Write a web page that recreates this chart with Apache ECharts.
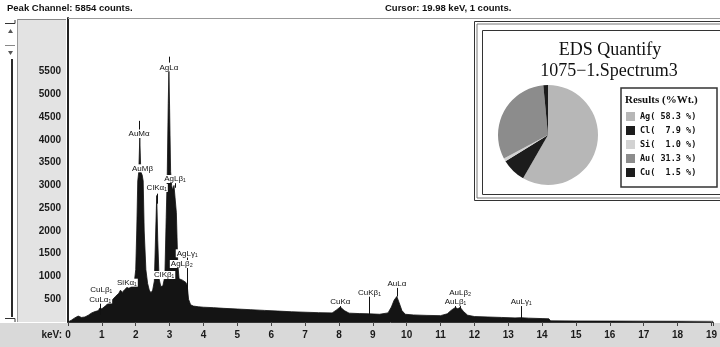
<!DOCTYPE html>
<html><head><meta charset="utf-8">
<script src="https://cdn.jsdelivr.net/npm/echarts@6/dist/echarts.min.js"></script>
<style>html,body{margin:0;padding:0;background:#fff}#c{width:720px;height:347px}</style>
</head><body><div id="c"></div>
<script>
// ---- spectrum (energy in keV, counts) ----
const keV = [
 0, 0.1, 0.2, 0.3, 0.35, 0.4, 0.5, 0.6, 0.7, 0.8,
 0.9, 0.93, 0.96, 1.0, 1.1, 1.2, 1.3, 1.4, 1.5, 1.55,
 1.6, 1.67, 1.74, 1.8, 1.86, 1.92, 1.97, 2.0, 2.03, 2.06,
 2.09, 2.12, 2.15, 2.19, 2.22, 2.25, 2.3, 2.35, 2.4, 2.45,
 2.5, 2.55, 2.59, 2.62, 2.65, 2.69, 2.74, 2.8, 2.86, 2.9,
 2.93, 2.96, 2.98, 3.0, 3.03, 3.06, 3.09, 3.13, 3.16, 3.2,
 3.24, 3.28, 3.33, 3.38, 3.43, 3.48, 3.52, 3.56, 3.62, 3.7,
 3.85, 4.0, 4.3, 4.6, 5.0, 5.4, 5.8, 6.2, 6.6, 7.0,
 7.4, 7.8, 7.92, 8.04, 8.16, 8.3, 8.6, 8.88, 8.92, 9.2,
 9.45, 9.55, 9.63, 9.71, 9.78, 9.86, 9.96, 10.2, 10.6, 11.0,
 11.2, 11.32, 11.44, 11.51, 11.58, 11.68, 11.8, 12.0, 12.4, 12.8,
 13.2, 13.38, 13.6, 14.0, 14.2, 14.25, 15, 16, 17, 18,
 19, 19.05
];
const counts = [
 0, 40, 90, 130, 120, 100, 110, 150, 200, 230,
 250, 300, 260, 290, 350, 420, 480, 560, 630, 700,
 650, 710, 760, 740, 770, 820, 950, 1150, 2000, 3100,
 3300, 4050, 3300, 3230, 3100, 2000, 1150, 850, 700, 640,
 700, 900, 2000, 2780, 1800, 950, 780, 790, 1000, 2300,
 3200, 4800, 5520, 4700, 3300, 3000, 2900, 3000, 3010, 2400,
 1300, 950, 960, 920, 900, 870, 800, 500, 380, 350,
 335, 325, 315, 300, 285, 270, 255, 240, 225, 215,
 205, 200, 260, 330, 250, 195, 185, 180, 175, 170,
 200, 330, 480, 560, 420, 250, 170, 155, 145, 140,
 180, 260, 320, 290, 320, 230, 150, 120, 110, 100,
 90, 95, 85, 75, 70, 25, 22, 20, 18, 16,
 14, 14
];

// ---- peak labels ----
const peakNames = ['CuLβ₁','CuLα₁','SiKα₁','AuMα','AuMβ','ClKα₁','AgLα','AgLβ₁','ClKβ₁','AgLγ₁','AgLβ₂','CuKα','CuKβ₁','AuLα','AuLβ₂','AuLβ₁','AuLγ₁'];
const peakKeV   = [0.98, 0.95, 1.74, 2.10, 2.20, 2.62, 2.98, 3.16, 2.84, 3.52, 3.36, 8.04, 8.90, 9.71, 11.58, 11.44, 13.38];
const peakLabelAt = [703, 494, 864, 4131, 3377, 2945, 5596, 3142, 1033, 1509, 1274, 446, 652, 850, 652, 446, 446];
const tickFrom  = [null, 410, null, 4230, null, 2820, 5700, 3050, null, 1420, null, 350, 560, 750, 350, 350, 350];
const tickTo    = [null, 160, null, 4420, null, 2600, 5830, 2950, null, 480, null, 250, 160, 560, 290, 290, 40];

// ---- quantification ----
const elements = ['Ag', 'Cl', 'Si', 'Au', 'Cu'];
const wtPercent = [58.3, 7.9, 1.0, 31.3, 1.5];
const elementColors = ['#b7b7b7', '#1c1c1c', '#d2d2d2', '#8c8c8c', '#1c1c1c'];

// ---- axes ----
const yTickLabels = [500, 1000, 1500, 2000, 2500, 3000, 3500, 4000, 4500, 5000, 5500];

const chart = echarts.init(document.getElementById('c'));
const spec = keV.map((e, i) => [e, counts[i]]);
const labelData = peakKeV.map((e, i) => [e, peakLabelAt[i]]);
const LF = 'Liberation Sans';

function renderPeak(params, api) {
  const i = params.dataIndex;
  const p = api.coord([api.value(0), api.value(1)]);
  const ch = [];
  if (tickFrom[i] != null) {
    const a = api.coord([api.value(0), tickFrom[i]]);
    const b = api.coord([api.value(0), tickTo[i]]);
    ch.push({type: 'line', shape: {x1: Math.round(a[0]) + 0.5, y1: a[1], x2: Math.round(b[0]) + 0.5, y2: b[1]},
             style: {stroke: '#111', lineWidth: 1}});
  }
  ch.push({type: 'text', x: p[0], y: p[1],
           style: {text: peakNames[i], fill: '#111', font: '8px "' + LF + '"', align: 'center',
                   verticalAlign: 'middle', backgroundColor: '#fff', padding: [0, 1]}});
  return {type: 'group', children: ch};
}

const option = {
  animation: false,
  grid: {left: 68, right: 0, top: 18, bottom: 25},
  xAxis: {
    type: 'value', min: 0, max: 19.05, interval: 1,
    axisLine: {show: true, lineStyle: {color: '#333', width: 1}},
    axisTick: {show: true, length: 4, lineStyle: {color: '#444'}},
    splitLine: {show: false},
    axisLabel: {margin: 8, color: '#1a1a1a', fontFamily: LF, fontWeight: 'bold', fontSize: 10,
                formatter: v => (Math.abs(v - Math.round(v)) < 1e-6 ? String(Math.round(v)) : '')}
  },
  yAxis: {
    type: 'value', min: 0, max: 6680, interval: 500,
    axisLine: {show: true, lineStyle: {color: '#222', width: 2}},
    axisTick: {show: false},
    splitLine: {show: false},
    axisLabel: {margin: 7, color: '#1a1a1a', fontFamily: LF, fontWeight: 'bold', fontSize: 10,
                formatter: v => (yTickLabels.indexOf(v) >= 0 ? String(v) : '')}
  },
  legend: {
    data: elements, orient: 'vertical', left: 626, top: 112,
    itemWidth: 9, itemHeight: 9, itemGap: 5, icon: 'rect', selectedMode: false,
    padding: 0, z: 6,
    textStyle: {fontFamily: 'DejaVu Sans Mono', fontWeight: 'bold', fontSize: 8.5, color: '#111', lineHeight: 9},
    formatter: name => {
      const v = wtPercent[elements.indexOf(name)].toFixed(1);
      return name + '(' + (' ' + v).padStart(5, ' ') + ' %)';
    }
  },
  series: [
    {
      type: 'line', data: spec, symbol: 'none', z: 2,
      lineStyle: {color: '#111', width: 0.8},
      areaStyle: {color: '#141414', opacity: 1}
    },
    {
      type: 'custom', data: labelData, renderItem: renderPeak, z: 4, silent: true
    },
    {
      type: 'pie', center: [548, 135], radius: 50, startAngle: 90, clockwise: true, z: 5,
      label: {show: false}, labelLine: {show: false}, silent: true,
      itemStyle: {borderWidth: 0},
      data: elements.map((n, i) => ({name: n, value: wtPercent[i], itemStyle: {color: elementColors[i]}}))
    }
  ],
  graphic: [
    // left panel
    {type: 'rect', z: -10, shape: {x: 17, y: 19, width: 49, height: 303}, style: {fill: '#e3e3e3'}},
    {type: 'rect', z: -10, shape: {x: 0, y: 323, width: 720, height: 24}, style: {fill: '#d9d9d9'}},
    {type: 'line', z: 1, shape: {x1: 68, y1: 18.5, x2: 720, y2: 18.5}, style: {stroke: '#999', lineWidth: 1}},
    {type: 'line', z: 1, shape: {x1: 17, y1: 19.5, x2: 66, y2: 19.5}, style: {stroke: '#888', lineWidth: 1}},
    {type: 'line', z: 1, shape: {x1: 17.5, y1: 19, x2: 17.5, y2: 322}, style: {stroke: '#999', lineWidth: 1}},
    // scroll widget
    {type: 'polyline', z: 1, shape: {points: [[5, 23.5], [15, 23.5], [15, 20]]}, style: {stroke: '#333', lineWidth: 1, fill: null}},
    {type: 'polygon', z: 1, shape: {points: [[8, 33], [13, 33], [10.5, 29]]}, style: {fill: '#555'}},
    {type: 'polygon', z: 1, shape: {points: [[8, 51], [13, 51], [10.5, 55]]}, style: {fill: '#555'}},
    {type: 'line', z: 1, shape: {x1: 5, y1: 45.5, x2: 15, y2: 45.5}, style: {stroke: '#888', lineWidth: 1}},
    {type: 'rect', z: 1, shape: {x: 11, y: 59, width: 2, height: 258}, style: {fill: '#2a2a2a'}},
    {type: 'polyline', z: 1, shape: {points: [[5, 318.5], [15, 318.5], [15, 322]]}, style: {stroke: '#333', lineWidth: 1, fill: null}},
    // header
    {type: 'text', z: 1, x: 7, y: 8, style: {text: 'Peak Channel: 5854 counts.', font: 'bold 9.5px "' + LF + '"', fill: '#111', verticalAlign: 'middle'}},
    {type: 'text', z: 1, x: 385, y: 8, style: {text: 'Cursor: 19.98 keV, 1 counts.', font: 'bold 9.5px "' + LF + '"', fill: '#111', verticalAlign: 'middle'}},
    {type: 'text', z: 1, x: 62, y: 335, style: {text: 'keV:', font: 'bold 10px "' + LF + '"', fill: '#1a1a1a', align: 'right', verticalAlign: 'middle'}},
    // inset
    {type: 'rect', z: 3, shape: {x: 474.5, y: 21.5, width: 250, height: 179}, style: {fill: '#fff', stroke: '#333', lineWidth: 1}},
    {type: 'rect', z: 3, shape: {x: 477, y: 24, width: 250, height: 174}, style: {fill: null, stroke: '#777', lineWidth: 1}},
    {type: 'rect', z: 3, shape: {x: 482.5, y: 30.5, width: 250, height: 164}, style: {fill: null, stroke: '#333', lineWidth: 1}},
    {type: 'text', z: 4, x: 610, y: 50, style: {text: 'EDS Quantify', font: '18px "Liberation Serif"', fill: '#111', align: 'center', verticalAlign: 'middle'}},
    {type: 'text', z: 4, x: 609, y: 71, style: {text: '1075\u22121.Spectrum3', font: '18px "Liberation Serif"', fill: '#111', align: 'center', verticalAlign: 'middle'}},
    {type: 'rect', z: 4, shape: {x: 621, y: 88, width: 96, height: 99}, style: {fill: '#fff', stroke: '#333', lineWidth: 1.5}},
    {type: 'text', z: 6, x: 625, y: 100, style: {text: 'Results (%Wt.)', font: 'bold 11px "Liberation Serif"', fill: '#111', verticalAlign: 'middle'}}
  ]
};
chart.setOption(option);
</script></body></html>
